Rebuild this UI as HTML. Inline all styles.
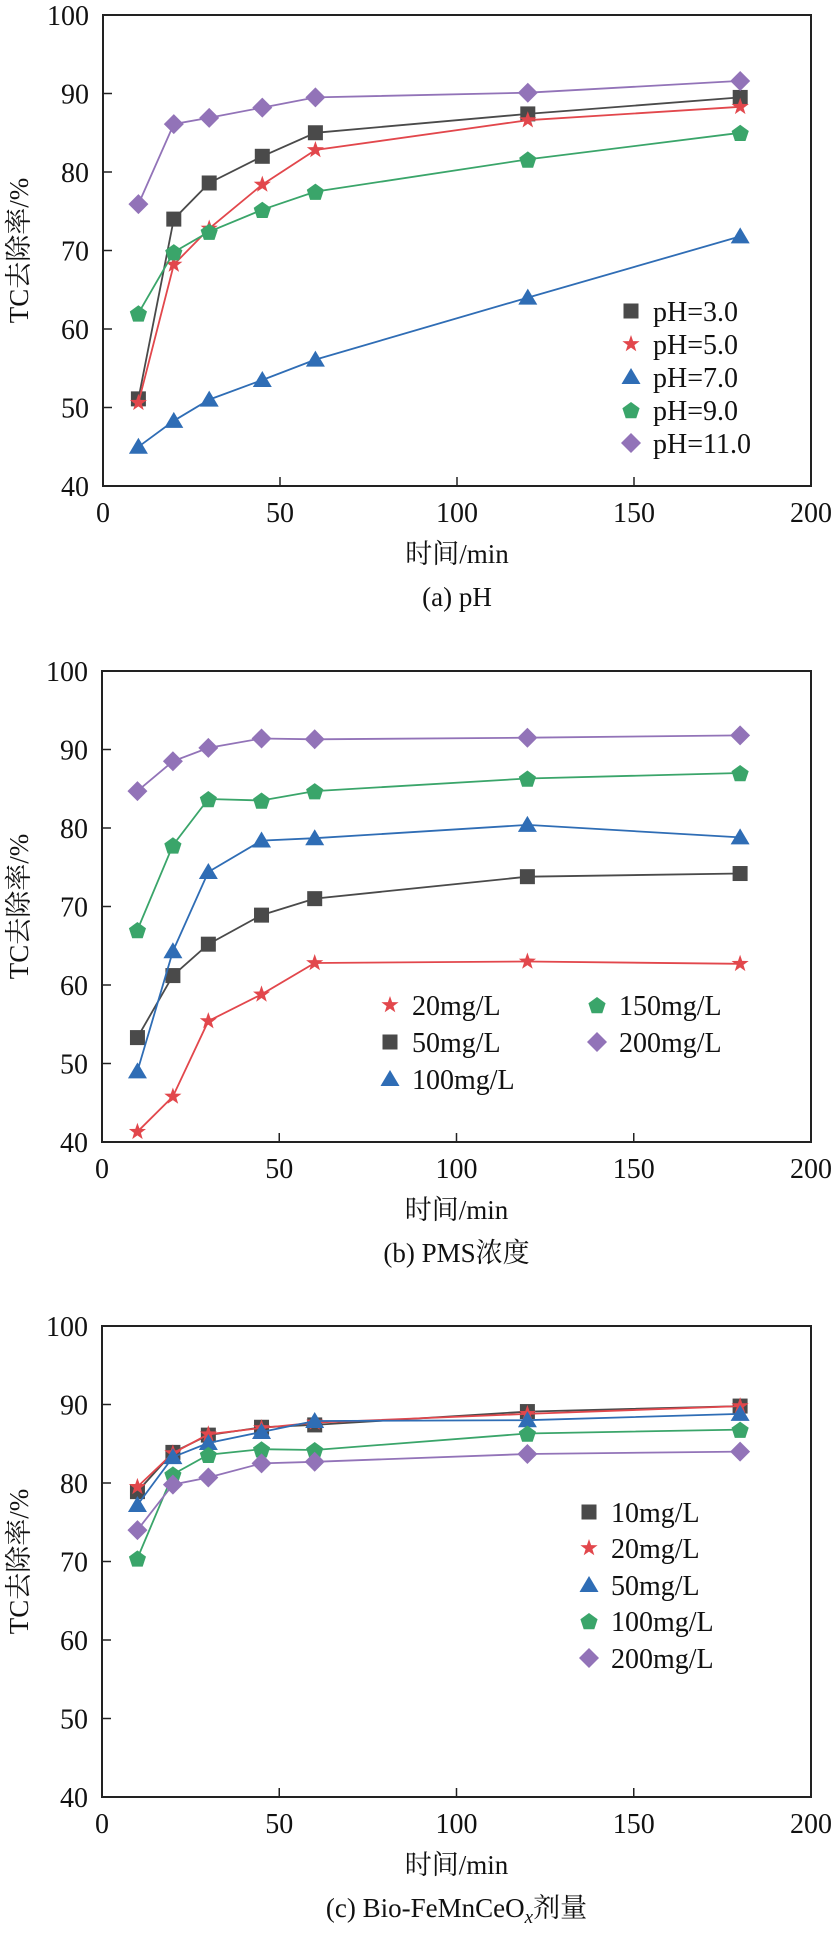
<!DOCTYPE html>
<html><head><meta charset="utf-8">
<style>
html,body{margin:0;padding:0;background:#fff;}
svg{display:block;}
svg text{font-family:"Liberation Serif","Noto Serif CJK SC",serif;fill:#111;}
</style></head>
<body>
<svg id="fig" width="837" height="1934" viewBox="0 0 837 1934" xmlns="http://www.w3.org/2000/svg" font-family="Liberation Serif, Noto Serif CJK SC, serif"></svg>
<script>
const times = [10, 20, 30, 45, 60, 120, 180];
const xTicks = [0, 50, 100, 150, 200];
const yTicks = [40, 50, 60, 70, 80, 90, 100];

const aLabels = ["pH=3.0", "pH=5.0", "pH=7.0", "pH=9.0", "pH=11.0"];
const aPH3 = [51.1, 74.0, 78.6, 82.0, 85.0, 87.4, 89.5];
const aPH5 = [50.6, 68.2, 72.8, 78.4, 82.8, 86.6, 88.3];
const aPH7 = [45.0, 48.3, 51.0, 53.5, 56.1, 64.0, 71.8];
const aPH9 = [62.0, 69.8, 72.4, 75.2, 77.5, 81.6, 85.0];
const aPH11 = [75.9, 86.1, 86.9, 88.2, 89.5, 90.1, 91.6];

const bLabels = ["20mg/L", "50mg/L", "100mg/L", "150mg/L", "200mg/L"];
const b20 = [41.3, 45.8, 55.4, 58.8, 62.8, 63.0, 62.7];
const b50 = [53.3, 61.2, 65.2, 68.9, 71.0, 73.8, 74.2];
const b100 = [49.0, 64.3, 74.4, 78.4, 78.7, 80.4, 78.8];
const b150 = [67.0, 77.8, 83.7, 83.5, 84.7, 86.3, 87.0];
const b200 = [84.7, 88.5, 90.2, 91.4, 91.3, 91.5, 91.8];

const cLabels = ["10mg/L", "20mg/L", "50mg/L", "100mg/L", "200mg/L"];
const c10 = [78.9, 83.9, 86.1, 87.1, 87.4, 89.1, 89.8];
const c20 = [79.5, 83.8, 86.2, 87.0, 87.7, 88.8, 89.8];
const c50 = [77.2, 83.3, 85.1, 86.5, 87.9, 88.0, 88.8];
const c100 = [70.4, 81.1, 83.6, 84.3, 84.2, 86.3, 86.8];
const c200 = [74.0, 79.8, 80.7, 82.5, 82.7, 83.7, 84.0];

const NS = "http://www.w3.org/2000/svg";
const svg = document.getElementById("fig");
const FONT = '"Liberation Serif", "Noto Serif CJK SC", serif';
function mk(tag, attrs, parent) {
  const e = document.createElementNS(NS, tag);
  for (const k in attrs) e.setAttribute(k, attrs[k]);
  if (tag === "text") e.setAttribute("font-family", FONT);
  (parent || svg).appendChild(e);
  return e;
}
const styles = {
  square: {color: "#4a4a4a"}, star: {color: "#e2474c"}, tri: {color: "#2f6db5"},
  pent: {color: "#3aa56a"}, diamond: {color: "#9273b8"}
};
function marker(g, type, cx, cy, name) {
  const col = styles[type].color;
  let e;
  if (type === "square") {
    e = mk("rect", {x: cx - 7.5, y: cy - 7.5, width: 15, height: 15, fill: col}, g);
  } else if (type === "star") {
    let pts = [];
    for (let i = 0; i < 10; i++) {
      const r = i % 2 ? 3.6 : 9, a = -Math.PI / 2 + i * Math.PI / 5;
      pts.push((cx + r * Math.cos(a)).toFixed(1) + "," + (cy + r * Math.sin(a)).toFixed(1));
    }
    e = mk("polygon", {points: pts.join(" "), fill: col}, g);
  } else if (type === "tri") {
    e = mk("polygon", {points: `${cx},${cy - 9} ${cx + 9.5},${cy + 7} ${cx - 9.5},${cy + 7}`, fill: col}, g);
  } else if (type === "pent") {
    let pts = [];
    for (let i = 0; i < 5; i++) {
      const a = -Math.PI / 2 + i * 2 * Math.PI / 5;
      pts.push((cx + 9 * Math.cos(a)).toFixed(1) + "," + (cy + 1 + 9 * Math.sin(a)).toFixed(1));
    }
    e = mk("polygon", {points: pts.join(" "), fill: col}, g);
  } else {
    e = mk("polygon", {points: `${cx},${cy - 10} ${cx + 10},${cy} ${cx},${cy + 10} ${cx - 10},${cy}`, fill: col}, g);
  }
  
  
}

function chart(id, top, left, right, series, types, labels, legendPos, caption) {
  const bottom = top + 471;
  const xs = v => left + (v - 0) / 200 * (right - left);
  const ys = v => bottom - (v - 40) / 60 * (bottom - top);
  const g = mk("g", {});
  
  
  const frame = mk("rect", {x: left, y: top, width: right - left, height: bottom - top, fill: "none", stroke: "#222", "stroke-width": 2}, g);
  
  
  xTicks.forEach(t => {
    const x = xs(t);
    if (t > 0 && t < 200) mk("line", {x1: x, x2: x, y1: bottom, y2: bottom - 9, stroke: "#222", "stroke-width": 1.5}, g);
    const tx = mk("text", {x: x, y: bottom + 36, "text-anchor": "middle", "font-size": 28}, g);
    tx.textContent = t;
    
    
  });
  yTicks.forEach(t => {
    const y = ys(t);
    if (t > 40 && t < 100) mk("line", {x1: left, x2: left + 9, y1: y, y2: y, stroke: "#222", "stroke-width": 1.5}, g);
    const tx = mk("text", {x: left - 14, y: y + 10, "text-anchor": "end", "font-size": 28}, g);
    tx.textContent = t;
    
    
  });
  const xt = mk("text", {x: (left + right) / 2, y: bottom + 77, "text-anchor": "middle", "font-size": 27}, g);
  xt.textContent = "时间/min";
  
  
  const yc = (top + bottom) / 2;
  const yt = mk("text", {x: 0, y: 0, transform: `translate(28,${yc}) rotate(-90)`, "text-anchor": "middle", "font-size": 27}, g);
  yt.textContent = "TC去除率/%";
  
  
  const cap = mk("text", {x: (left + right) / 2, y: bottom + 120, "text-anchor": "middle", "font-size": 27}, g);
  cap.innerHTML = caption;
  
  
  series.forEach((vals, i) => {
    const sg = mk("g", {}, g);
    
    
    const pts = vals.map((v, j) => xs(times[j]).toFixed(1) + "," + ys(v).toFixed(1)).join(" ");
    const pl = mk("polyline", {points: pts, fill: "none", stroke: styles[types[i]].color, "stroke-width": 1.8}, sg);
    
    
    vals.forEach((v, j) => marker(sg, types[i], xs(times[j]), ys(v), 'data-point'));
  });
  labels.forEach((lab, i) => {
    const p = legendPos[i];
    const lg = mk("g", {}, g);
    
    
    marker(lg, types[i], p[0], p[1], 'legend-marker');
    const tx = mk("text", {x: p[0] + 22, y: p[1] + 10, "font-size": 28}, lg);
    tx.textContent = lab;
    
    
  });
}
const types = ["square", "star", "tri", "pent", "diamond"];
chart("chart-ph", 15, 103, 811, [aPH3, aPH5, aPH7, aPH9, aPH11], types, aLabels,
  [[631, 311], [631, 344], [631, 377], [631, 410], [631, 443]], "(a) pH");
chart("chart-pms", 671, 102, 811, [b20, b50, b100, b150, b200], ["star", "square", "tri", "pent", "diamond"], bLabels,
  [[390, 1005], [390, 1042], [390, 1079], [597, 1005], [597, 1042]], "(b) PMS浓度");
chart("chart-dose", 1326, 102, 811, [c10, c20, c50, c100, c200], types, cLabels,
  [[589, 1512], [589, 1548], [589, 1585], [589, 1621], [589, 1658]],
  '(c) Bio-FeMnCeO<tspan font-style="italic" font-size="19" dy="6">x</tspan><tspan dy="-6">剂量</tspan>');
</script>
</body></html>
